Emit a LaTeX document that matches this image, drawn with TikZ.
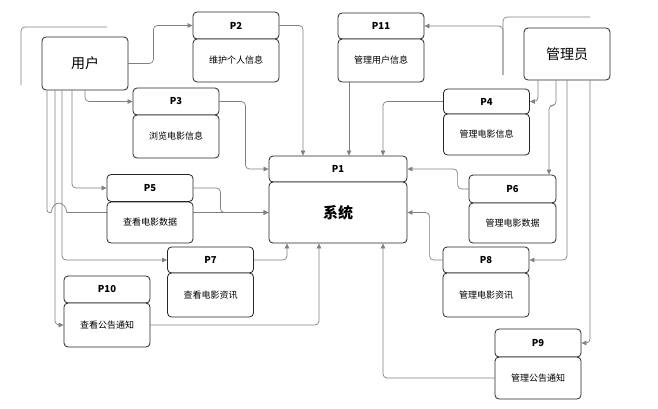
\documentclass[tikz,border=0pt]{standalone}
\usepackage{fontspec}
\setmainfont{Noto Sans CJK SC}
\usetikzlibrary{arrows.meta,backgrounds}

\begin{document}
\begin{tikzpicture}[x=1pt, y=-1pt,
    box/.style={draw=black!85, fill=white, rounded corners=4pt, line width=0.8pt, minimum width=86pt, inner sep=0pt},
    head/.style={box, minimum height=27pt, font=\bfseries\fontsize{9.5}{11}\selectfont},
    body/.style={box, minimum height=43pt, font=\fontsize{9}{11}\selectfont},
    actor/.style={box, minimum height=53pt, font=\fontsize{14}{16}\selectfont},
    link/.style={draw=gray, line width=0.7pt, rounded corners=4pt},
    flow/.style={link, -{Triangle[length=5pt,width=4.5pt]}}]
    \useasboundingbox (0,0) rectangle (658,408);

    % Actors
    \node[actor] (user) at (85,63.5) {用户};
    \node[actor, minimum height=52pt] (admin) at (567,54) {管理员};

    % Central system
    \node[head, minimum width=138pt, minimum height=26pt] (p1h) at (338,169) {P1};
    \node[box, minimum width=138pt, minimum height=61pt, font=\bfseries\fontsize{15}{17}\selectfont] (p1b) at (338,212.5) {系统};

    % Processes of the user
    \node[head] (p2h) at (236,25.5) {P2};
    \node[body] (p2b) at (236,60.5) {维护个人信息};
    \node[head] (p3h) at (176,101.5) {P3};
    \node[body] (p3b) at (176,136.5) {浏览电影信息};
    \node[head] (p5h) at (150,188) {P5};
    \node[body, minimum height=41pt] (p5b) at (150,222.5) {查看电影数据};
    \node[head, minimum height=26pt] (p7h) at (210.5,260) {P7};
    \node[body, minimum height=44pt] (p7b) at (210.5,295) {查看电影资讯};
    \node[head] (p10h) at (107,289.5) {P10};
    \node[body, minimum height=44pt] (p10b) at (107,325) {查看公告通知};

    % Processes of the administrator
    \node[head, minimum height=26pt] (p11h) at (381,26) {P11};
    \node[body] (p11b) at (381,60.5) {管理用户信息};
    \node[head, minimum height=25pt] (p4h) at (486.5,101.5) {P4};
    \node[body, minimum height=41pt] (p4b) at (486.5,134.5) {管理电影信息};
    \node[head, minimum width=87pt, minimum height=28pt] (p6h) at (512.5,189) {P6};
    \node[body, minimum width=87pt, minimum height=40pt] (p6b) at (512.5,223) {管理电影数据};
    \node[head, minimum height=26pt] (p8h) at (486,260) {P8};
    \node[body, minimum height=44pt] (p8b) at (486,295) {管理电影资讯};
    \node[head, minimum height=28pt] (p9h) at (538,343) {P9};
    \node[body, minimum height=42pt] (p9b) at (538,378) {管理公告通知};

    % Loose line ends
    \coordinate (ufree) at (21,85);
    \coordinate (uend) at (107,27);
    \coordinate (afree) at (503,75);
    \coordinate (aend) at (590,17);

    \begin{scope}[on background layer]
        % User side
        \draw[link] (ufree) |- (uend);
        \draw[flow] (user.east) -- ++(25,0) |- (p2h.west);
        \draw[flow] (user.south) |- (p3h.west);
        \draw[flow] ([xshift=-13]user.south) |- (p5h.west);
        \draw[flow] ([xshift=-23]user.south) |- (p7h.west);
        \draw[flow] ([xshift=-30]user.south) |- (p10b.west);
        \draw[link, rounded corners=2.5pt] ([xshift=-38]user.south) |- (51,212.5);
        \draw[flow, rounded corners=0pt] (51,212.5) .. controls (53,200) and (65,200) .. (67,212.5) -- (p1b.west);

        % Into the system
        \draw[flow] (p2h.east) -| ([xshift=-35]p1h.north);
        \draw[flow] ([xshift=-32]p11b.south) -- ([xshift=11]p1h.north);
        \draw[flow] (p4h.west) -| ([xshift=45]p1h.north);
        \draw[flow] (p3h.east) -- ++(26,0) |- (p1h.west);
        \draw[flow] (p5h.east) -- ++(27,0) |- (p1b.west);
        \draw[flow] (p6h.west) -- ++(-11,0) |- (p1h.east);
        \draw[flow] (p8h.west) -- ++(-13,0) |- (p1b.east);
        \draw[flow] (p7h.east) -| ([xshift=-51]p1b.south);
        \draw[flow] (p10b.east) -| ([xshift=-19]p1b.south);
        \draw[flow] (p9b.west) -| ([xshift=45]p1b.south);

        % Administrator side
        \draw[flow] (afree) |- (p11h.east);
        \draw[link] (afree) |- (aend);
        \draw[flow] ([xshift=-29]admin.south) |- (p4h.east);
        \draw[flow] ([xshift=-11]admin.south) -- ++(0,25) -| ([xshift=36.5]p6h.north);
        \draw[flow] (admin.south) |- (p8h.east);
        \draw[flow] ([xshift=23]admin.south) |- (p9h.east);
    \end{scope}
\end{tikzpicture}
\end{document}
